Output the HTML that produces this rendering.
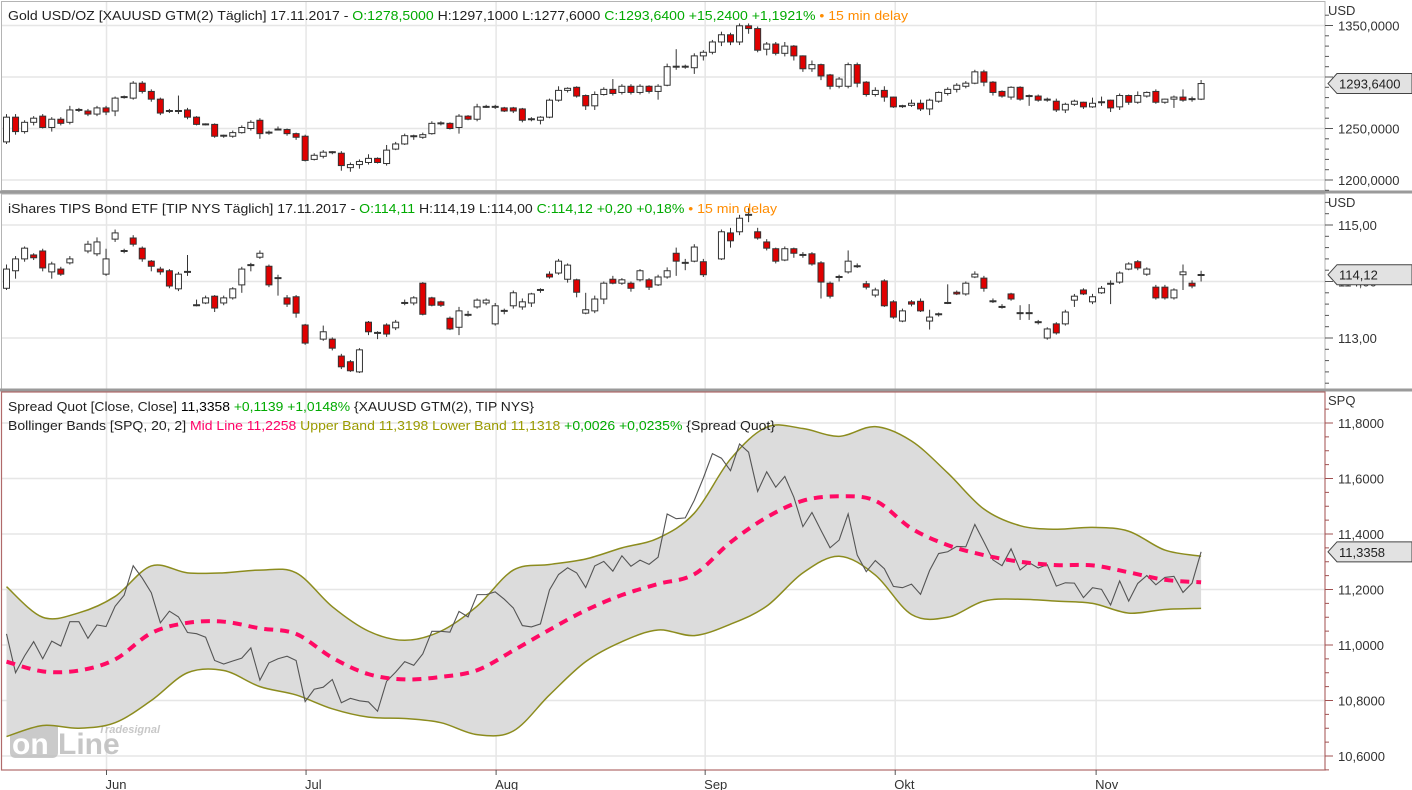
<!DOCTYPE html>
<html><head><meta charset="utf-8"><title>Gold / TIP Spread</title>
<style>
html,body{margin:0;padding:0;background:#fff;}
svg{display:block;font-family:"Liberation Sans",sans-serif;}
</style></head>
<body>
<svg id="chart" width="1412" height="790" viewBox="0 0 1412 790" xmlns="http://www.w3.org/2000/svg">
  <rect x="0" y="0" width="1412" height="790" fill="#fff"/>
  <defs>
    <clipPath id="clipGold"><rect x="2" y="2" width="1323" height="188"/></clipPath>
    <clipPath id="clipTip"><rect x="2" y="194" width="1323" height="195"/></clipPath>
    <clipPath id="clipSpq"><rect x="2" y="392" width="1323" height="378"/></clipPath>
  </defs>
  <g id="grid"></g>
  <g id="watermark">
    <text x="160" y="733" font-size="11" font-weight="bold" fill="#c8c8c8" text-anchor="end" font-style="italic">Tradesignal</text>
    <rect x="10" y="722" width="48" height="36" rx="5" fill="#bdbdbd" opacity="0.8"/>
    <text x="12" y="754" font-size="30" font-weight="bold" fill="#fff">on</text>
    <text x="58" y="754" font-size="30" font-weight="bold" fill="#bdbdbd" opacity="0.85">Line</text>
  </g>
  <g id="bands" clip-path="url(#clipSpq)"></g>
  <g id="goldCandles" clip-path="url(#clipGold)"></g>
  <g id="tipCandles" clip-path="url(#clipTip)"></g>
  <g id="spreadLine" clip-path="url(#clipSpq)"></g>
  <g id="frames"></g>
  <g id="axes"></g>

  <g font-size="13">
    <text x="8" y="20" fill="#222" textLength="900" lengthAdjust="spacingAndGlyphs"><tspan>Gold USD/OZ [XAUUSD GTM(2) Täglich] 17.11.2017 - </tspan><tspan fill="#00aa00">O:1278,5000</tspan><tspan> H:1297,1000 L:1277,6000 </tspan><tspan fill="#00aa00">C:1293,6400 +15,2400 +1,1921%</tspan><tspan fill="#ff8c00"> • 15 min delay</tspan></text>
  </g>
  <g font-size="13">
    <text x="8" y="213" fill="#222" textLength="769" lengthAdjust="spacingAndGlyphs"><tspan>iShares TIPS Bond ETF [TIP NYS Täglich] 17.11.2017 - </tspan><tspan fill="#00aa00">O:114,11</tspan><tspan> H:114,19 L:114,00 </tspan><tspan fill="#00aa00">C:114,12 +0,20 +0,18%</tspan><tspan fill="#ff8c00"> • 15 min delay</tspan></text>
  </g>
  <g font-size="13">
    <text x="8" y="411" fill="#222" textLength="526" lengthAdjust="spacingAndGlyphs"><tspan>Spread Quot [Close, Close] </tspan><tspan fill="#000">11,3358</tspan><tspan fill="#00aa00"> +0,1139 +1,0148%</tspan><tspan> {XAUUSD GTM(2), TIP NYS}</tspan></text>
    <text x="8" y="430" fill="#222" textLength="767" lengthAdjust="spacingAndGlyphs"><tspan>Bollinger Bands [SPQ, 20, 2] </tspan><tspan fill="#ff0066">Mid Line 11,2258</tspan><tspan fill="#9a9a00"> Upper Band 11,3198 Lower Band 11,1318</tspan><tspan fill="#00aa00"> +0,0026 +0,0235%</tspan><tspan> {Spread Quot}</tspan></text>
  </g>
</svg>
<script>
// ---------- data ----------
const goldO=[1237,1261,1247,1256,1262,1251,1259,1256,1268,1267,1264,1270,1267,1280.5,1279.5,1294,1286,1278.5,1267,1267,1268,1261,1254,1254,1243,1242.5,1246,1250,1258,1246,1249,1249,1245,1242.5,1220,1223,1227,1226,1212,1215,1217,1221,1216,1230,1235,1242.5,1241.5,1245,1255,1255,1251,1262,1259,1271,1271,1270,1270,1269,1259,1258,1261,1277.5,1287,1290,1282,1272,1283,1288,1285,1291,1285,1291,1286,1292,1310,1310,1309,1320.5,1324,1334,1341,1334,1349.7,1347,1327,1332,1323,1330,1320.5,1308,1312,1302,1291,1291,1312,1295,1283,1287,1280.5,1271.7,1272.5,1274.5,1269,1276.5,1284,1288,1291,1294,1305,1295,1286,1280.5,1290,1281.5,1281.5,1278.5,1276.5,1268,1273.5,1275.5,1271,1275.5,1277.5,1271,1282,1275.5,1281.5,1286,1275.5,1278.5,1280.5,1278.5,1278.5];
const goldC=[1261,1247,1256,1260,1251,1259,1255,1268,1268,1264,1270,1266,1279.5,1280.5,1294,1286,1278.5,1265,1267,1267,1261,1254,1254,1242.5,1243,1246,1251,1256,1245,1246,1249,1245,1241.5,1219,1224,1227,1227,1214,1215,1218,1221,1217,1229,1235,1243,1242.5,1244,1255,1255,1250,1262,1259,1271,1271,1271,1267,1267,1258,1259,1261,1277.5,1287,1289,1281.5,1272,1283,1288,1284,1291,1285,1291,1286,1291,1310,1310,1310,1320.5,1324,1334,1341,1334,1349.7,1347,1326,1332,1323,1330,1320.5,1308,1312,1301,1291,1298,1312,1294,1283,1287,1280.5,1271,1271.7,1274.5,1269,1277.5,1285,1288,1292,1294,1305,1295,1285,1281.5,1290,1278.5,1281.5,1277.5,1277.5,1268,1273.5,1276.5,1271,1274.5,1275.5,1270,1282,1275.5,1282,1285,1275.5,1278.5,1280.5,1277.5,1278.5,1293.64];
const goldH=[1264,1264,1258,1262,1264,1261,1261,1272,1270,1269,1272,1272,1281,1282,1296,1296,1288,1280,1269,1282,1270,1262,1255,1255,1244,1248,1253,1258,1260,1248,1252,1250,1246,1244,1226,1229,1228,1228,1217,1220,1225,1222,1234,1237,1245,1244,1246,1257,1257,1256,1264,1263,1274,1273,1273,1271,1271,1270,1261,1262,1279,1291,1290,1291,1283,1286,1290,1298,1293,1293,1293,1292,1293,1313,1327,1312,1323,1326,1336,1344,1343,1352,1352,1349,1334,1334,1334,1331,1321,1316,1313,1303,1300,1314,1314,1296,1290,1291,1281,1273,1278,1278,1279,1286,1290,1294,1296,1307,1307,1296,1287,1291,1291,1283,1283,1280,1279,1275,1278,1276,1280,1281,1278,1284,1283,1286,1286,1288,1279,1282,1288,1281,1297.1];
const goldL=[1235,1244,1245,1253,1250,1247,1253,1254,1266,1262,1262,1263,1262,1279,1278,1284,1276,1263,1265,1264,1259,1253,1253,1241,1241,1241,1245,1248,1240,1244,1248,1243,1239,1218,1219,1221,1225,1209,1208,1211,1215,1216,1214,1229,1234,1239,1240,1244,1253,1249,1245,1258,1257,1270,1269,1266,1265,1256,1257,1254,1260,1276,1285,1280,1268,1268,1282,1282,1283,1283,1283,1284,1278,1291,1307,1308,1303,1316,1322,1330,1331,1331,1342,1324,1321,1321,1320,1316,1305,1305,1297,1288,1289,1289,1290,1281,1281,1276,1270,1270,1271,1267,1263,1275,1282,1285,1289,1293,1291,1282,1280,1278,1277,1272,1276,1276,1266,1265,1272,1269,1270,1272,1266,1268,1273,1274,1280,1274,1274,1270,1276,1276,1277.6];

const tipO=[113.88,114.19,114.40,114.47,114.54,114.17,114.22,114.33,null,114.54,114.49,114.13,114.75,114.54,114.77,114.59,114.36,114.22,114.19,113.87,114.17,113.58,113.62,113.74,113.62,113.71,113.94,114.29,114.43,114.27,114.06,113.71,113.73,113.23,null,112.98,112.98,112.68,112.58,112.40,113.28,113.09,113.23,113.18,113.62,113.62,113.97,113.71,113.64,113.35,113.19,113.41,113.55,113.62,113.25,113.48,113.57,113.55,113.62,113.85,114.13,114.15,114.04,114.03,113.44,113.48,113.69,114.04,113.97,113.97,114.03,114.03,113.94,114.08,114.50,114.33,114.36,114.35,null,114.40,114.86,114.88,115.18,114.88,114.70,114.58,114.38,114.58,114.47,114.49,114.33,113.97,114.08,114.17,114.27,113.96,113.76,114.01,113.64,113.30,113.64,113.65,113.30,113.42,113.62,113.81,113.78,114.08,114.06,113.65,113.55,113.78,113.44,113.44,113.28,113.00,113.25,113.25,113.67,113.85,113.64,113.80,113.96,113.99,114.22,114.35,114.13,113.90,113.90,113.71,114.12,113.97,114.11];
const tipC=[114.22,114.40,114.59,114.42,114.24,114.31,114.13,114.40,null,114.66,114.70,114.40,114.86,114.54,114.66,114.40,114.27,114.17,113.92,114.13,114.17,113.58,113.71,113.53,113.71,113.87,114.22,114.29,114.50,113.94,114.06,113.60,113.44,112.91,null,113.11,112.82,112.49,112.42,112.79,113.11,113.09,113.07,113.28,113.62,113.71,113.42,113.58,113.58,113.16,113.48,113.41,113.67,113.67,113.57,113.48,113.80,113.64,113.78,113.85,114.08,114.36,114.29,113.81,113.50,113.69,113.97,113.97,114.03,113.88,114.19,113.90,114.08,114.19,114.36,114.33,114.61,114.12,null,114.88,114.72,115.12,115.18,114.77,114.59,114.36,114.58,114.50,114.47,114.31,113.99,113.74,114.08,114.36,114.27,113.90,113.85,113.57,113.37,113.48,113.60,113.48,113.37,113.42,113.62,113.78,113.97,114.13,113.88,113.65,113.55,113.69,113.44,113.44,113.28,113.16,113.09,113.46,113.74,113.78,113.73,113.88,113.96,114.15,114.31,114.24,114.22,113.71,113.71,113.85,114.17,113.92,114.12];
const tipH=[114.30,114.45,114.62,114.50,114.58,114.35,114.26,114.45,null,114.72,114.78,114.58,114.92,114.58,114.82,114.62,114.38,114.26,114.22,114.17,114.47,113.68,113.75,113.76,113.75,113.90,114.26,114.33,114.55,114.30,114.12,113.76,113.76,113.25,null,113.22,113.01,112.72,112.61,112.82,113.30,113.12,113.26,113.32,113.68,113.74,113.99,113.73,113.66,113.38,113.55,113.48,113.70,113.70,113.62,113.52,113.84,113.70,113.80,113.88,114.18,114.40,114.32,114.05,113.80,113.75,114.00,114.10,114.06,114.00,114.22,114.06,114.12,114.25,114.60,114.40,114.66,114.40,null,114.92,114.95,115.18,115.30,114.95,114.75,114.60,114.62,114.60,114.52,114.52,114.36,114.00,114.12,114.55,114.32,114.01,113.89,114.04,113.67,113.52,113.67,113.70,113.50,113.45,113.95,113.84,114.00,114.18,114.10,113.70,113.60,113.80,113.58,113.60,113.32,113.19,113.28,113.50,113.78,113.88,113.78,113.92,114.02,114.18,114.34,114.38,114.25,113.94,113.94,113.88,114.30,114.02,114.19];
const tipL=[113.85,114.05,114.35,114.38,114.18,114.05,114.10,114.30,null,114.50,114.45,114.10,114.70,114.50,114.62,114.35,114.18,114.12,113.88,113.83,114.10,113.56,113.60,113.46,113.58,113.68,113.80,114.18,114.40,113.90,113.75,113.55,113.36,112.88,null,112.95,112.78,112.45,112.40,112.38,113.05,112.98,113.02,113.14,113.58,113.58,113.40,113.56,113.55,113.14,113.05,113.38,113.52,113.58,113.22,113.42,113.52,113.50,113.55,113.80,114.05,114.12,113.98,113.72,113.42,113.44,113.60,113.95,113.94,113.82,114.00,113.85,113.92,114.05,114.10,114.20,114.34,114.08,null,114.38,114.60,114.82,115.05,114.74,114.55,114.32,114.36,114.42,114.42,114.28,113.70,113.70,114.00,114.14,114.24,113.86,113.72,113.55,113.34,113.28,113.56,113.46,113.15,113.38,113.60,113.76,113.75,114.06,113.82,113.62,113.52,113.66,113.32,113.32,113.24,112.97,113.06,113.22,113.55,113.76,113.60,113.78,113.60,113.96,114.20,114.20,114.10,113.68,113.68,113.68,113.85,113.88,114.00];

const bandIdx=[0,4,8,12,16,20,24,28,32,36,40,44,48,52,56,60,64,68,72,76,80,84,88,92,96,100,104,108,112,116,120,124,128,132];
const bandUp=[11.21,11.10,11.116,11.175,11.285,11.26,11.26,11.27,11.26,11.138,11.05,11.017,11.05,11.14,11.27,11.29,11.31,11.35,11.385,11.475,11.67,11.785,11.78,11.752,11.787,11.735,11.62,11.49,11.43,11.417,11.424,11.41,11.342,11.32];
const bandMid=[10.94,10.905,10.908,10.948,11.043,11.08,11.084,11.06,11.04,10.954,10.895,10.876,10.885,10.909,10.98,11.055,11.125,11.18,11.22,11.255,11.37,11.46,11.52,11.536,11.52,11.42,11.36,11.324,11.3,11.288,11.287,11.262,11.235,11.226];
const bandLo=[10.67,10.71,10.70,10.72,10.80,10.90,10.908,10.85,10.82,10.77,10.74,10.735,10.72,10.677,10.69,10.82,10.94,11.012,11.054,11.034,11.075,11.14,11.26,11.32,11.252,11.11,11.10,11.158,11.165,11.158,11.15,11.115,11.128,11.132];

const months=['Jun','Jul','Aug','Sep','Okt','Nov'];
const monthIdx=[11.05,33.1,54.1,77.2,98.2,120.4];
const goldTicks=[1200,1250,1300,1350];
const goldTickLabels=['1200,0000','1250,0000','1300,0000','1350,0000'];
const tipTicks=[113,114,115];
const tipTickLabels=['113,00','114,00','115,00'];
const spqTicks=[10.6,10.8,11.0,11.2,11.4,11.6,11.8];
const spqTickLabels=['10,6000','10,8000','11,0000','11,2000','11,4000','11,6000','11,8000'];
const lastGold=1293.64, lastTip=114.12, lastSpq=11.3358;

// ---------- scales ----------
const NS='http://www.w3.org/2000/svg';
const PLOT_R=1325;
function xS(i){return 6.5+9.05*i;}
function yGold(p){return 77+(1300-p)*1.03;}
function yTip(p){return 225+(115-p)*56.5;}
function ySpq(v){return 423+(11.8-v)*277.5;}
function mk(tag,attrs,parent){const e=document.createElementNS(NS,tag);for(const k in attrs)e.setAttribute(k,attrs[k]);parent.appendChild(e);return e;}

const grid=document.getElementById('grid');
goldTicks.forEach(t=>{const l=mk('line',{x1:2,x2:PLOT_R,y1:yGold(t),y2:yGold(t),stroke:'#e6e6e6','stroke-width':1.5},grid);

});
tipTicks.forEach(t=>{const l=mk('line',{x1:2,x2:PLOT_R,y1:yTip(t),y2:yTip(t),stroke:'#e6e6e6','stroke-width':1.5},grid);

});
spqTicks.forEach(t=>{const l=mk('line',{x1:2,x2:PLOT_R,y1:ySpq(t),y2:ySpq(t),stroke:'#e6e6e6','stroke-width':1.5},grid);

});
monthIdx.forEach(m=>{const l=mk('line',{x1:xS(m),x2:xS(m),y1:2,y2:770,stroke:'#e6e6e6','stroke-width':1.5},grid);

});

function drawCandles(g,O,H,L,C,yf,name){
  for(let i=0;i<O.length;i++){
    if(O[i]==null)continue;
    const x=xS(i);
    const c=mk('g',{},g);
    
    
    mk('line',{x1:x,x2:x,y1:yf(H[i]),y2:yf(L[i]),stroke:'#333','stroke-width':1},c);
    const top=yf(Math.max(O[i],C[i])),bot=yf(Math.min(O[i],C[i]));
    if(bot-top<1.2){
      mk('line',{x1:x-3.5,x2:x+3.5,y1:(top+bot)/2,y2:(top+bot)/2,stroke:'#333','stroke-width':2},c);
    }else{
      const up=C[i]>=O[i];
      mk('rect',{x:x-3,y:top,width:6,height:bot-top,fill:up?'#fff':'#e00000',stroke:'#333','stroke-width':1},c);
    }
  }
}
drawCandles(document.getElementById('goldCandles'),goldO,goldH,goldL,goldC,yGold,'gold');
drawCandles(document.getElementById('tipCandles'),tipO,tipH,tipL,tipC,yTip,'tip');

function smoothPath(pts,move){
  let d=move?('M'+pts[0][0]+','+pts[0][1]):('L'+pts[0][0]+','+pts[0][1]);
  for(let i=0;i<pts.length-1;i++){
    const p0=pts[Math.max(0,i-1)],p1=pts[i],p2=pts[i+1],p3=pts[Math.min(pts.length-1,i+2)];
    const c1=[p1[0]+(p2[0]-p0[0])/6,p1[1]+(p2[1]-p0[1])/6];
    const c2=[p2[0]-(p3[0]-p1[0])/6,p2[1]-(p3[1]-p1[1])/6];
    d+=' C'+c1[0]+','+c1[1]+' '+c2[0]+','+c2[1]+' '+p2[0]+','+p2[1];
  }
  return d;
}
const bg=document.getElementById('bands');
const upPts=bandIdx.map((b,i)=>[xS(b),ySpq(bandUp[i])]);
const loPts=bandIdx.map((b,i)=>[xS(b),ySpq(bandLo[i])]);
const midPts=bandIdx.map((b,i)=>[xS(b),ySpq(bandMid[i])]);
const fill=mk('path',{d:smoothPath(upPts,true)+' '+smoothPath(loPts.slice().reverse(),false)+' Z',fill:'#dcdcdc',stroke:'none'},bg);


const up=mk('path',{d:smoothPath(upPts,true),fill:'none',stroke:'#8c8c1e','stroke-width':1.5},bg);


const lo=mk('path',{d:smoothPath(loPts,true),fill:'none',stroke:'#8c8c1e','stroke-width':1.5},bg);



const sg=document.getElementById('spreadLine');
let lastT=null;const spread=[];
for(let i=0;i<goldC.length;i++){if(tipC[i]!=null)lastT=tipC[i];spread.push(goldC[i]/lastT);}
const sl=mk('polyline',{points:spread.map((v,i)=>xS(i)+','+ySpq(v)).join(' '),fill:'none',stroke:'#555','stroke-width':1.1},sg);


const mid=mk('path',{d:smoothPath(midPts,true),fill:'none',stroke:'#ff0a64','stroke-width':4,'stroke-dasharray':'9 7'},sg);



const fr=document.getElementById('frames');
mk('rect',{x:1.5,y:1.5,width:PLOT_R-1.5,height:189,fill:'none',stroke:'#b4b4b4','stroke-width':1},fr);
mk('rect',{x:1.5,y:194,width:PLOT_R-1.5,height:195,fill:'none',stroke:'#b4b4b4','stroke-width':1},fr);
mk('rect',{x:0,y:190.5,width:1412,height:3,fill:'#9a9a9a'},fr);
mk('rect',{x:0,y:388.5,width:1412,height:3,fill:'#9a9a9a'},fr);
mk('rect',{x:1.5,y:392,width:PLOT_R-1.5,height:378,fill:'none',stroke:'#b06a6a','stroke-width':1.2},fr);

const ax=document.getElementById('axes');
function axisLabels(ticks,labels,yf,minorStep,lo,hi,unit,unitY,name,color){
  const t=mk('text',{x:1328,y:unitY,'font-size':13,fill:'#333'},ax);t.textContent=unit;
  
  
  for(let v=lo;v<=hi+1e-9;v+=minorStep){const y=yf(v);mk('line',{x1:PLOT_R,x2:PLOT_R+4,y1:y,y2:y,stroke:color,'stroke-width':1},ax);}
  ticks.forEach((tv,i)=>{const y=yf(tv);
    mk('line',{x1:PLOT_R,x2:PLOT_R+8,y1:y,y2:y,stroke:color,'stroke-width':1},ax);
    const l=mk('text',{x:1338,y:y+5,'font-size':13,fill:'#333'},ax);l.textContent=labels[i];
    
    });
}
axisLabels(goldTicks,goldTickLabels,yGold,10,1190,1360,'USD',15,'gold','#555');
axisLabels(tipTicks,tipTickLabels,yTip,0.2,112.2,115.4,'USD',207,'tip','#555');
axisLabels(spqTicks,spqTickLabels,ySpq,0.05,10.55,11.85,'SPQ',405,'spq','#a05050');
function tag(y,label,name){
  const g=mk('g',{},ax);
  
  
  mk('path',{d:'M1328,'+y+' L1337,'+(y-10)+' L1412,'+(y-10)+' L1412,'+(y+10)+' L1337,'+(y+10)+' Z',fill:'#e2e2e2',stroke:'#444','stroke-width':1},g);
  const t=mk('text',{x:1339,y:y+5,'font-size':13,fill:'#222'},g);t.textContent=label;
}
tag(yGold(lastGold),'1293,6400','gold-price-tag');
tag(yTip(lastTip),'114,12','tip-price-tag');
tag(ySpq(lastSpq),'11,3358','spq-price-tag');
months.forEach((m,i)=>{const x=xS(monthIdx[i]);
  mk('line',{x1:x,x2:x,y1:770,y2:775,stroke:'#555','stroke-width':1},ax);
  const t=mk('text',{x:x-1,y:789,'font-size':13,fill:'#333'},ax);t.textContent=m;
  
  });
</script>
</body></html>
